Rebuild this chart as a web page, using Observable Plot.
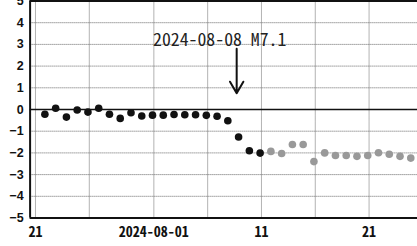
<!DOCTYPE html>
<html><head><meta charset="utf-8">
<script src="https://cdn.jsdelivr.net/npm/d3@7"></script>
<script src="https://cdn.jsdelivr.net/npm/@observablehq/plot@0.6"></script>
<style>
html,body{margin:0;padding:0;background:#fff;}
#chart svg{display:block;}
</style></head><body><div id="chart"></div>
<script>
// Daily solutions (plotted at 21:00 JST), values in cm
const finalDates = ["2024-07-21","2024-07-22","2024-07-23","2024-07-24","2024-07-25","2024-07-26","2024-07-27","2024-07-28","2024-07-29","2024-07-30","2024-07-31","2024-08-01","2024-08-02","2024-08-03","2024-08-04","2024-08-05","2024-08-06","2024-08-07","2024-08-08","2024-08-09","2024-08-10"];
const finalValues = [-0.22,0.06,-0.35,-0.02,-0.12,0.06,-0.22,-0.41,-0.15,-0.30,-0.26,-0.26,-0.23,-0.24,-0.24,-0.27,-0.31,-0.52,-1.27,-1.90,-2.01];
const rapidDates = ["2024-08-11","2024-08-12","2024-08-13","2024-08-14","2024-08-15","2024-08-16","2024-08-17","2024-08-18","2024-08-19","2024-08-20","2024-08-21","2024-08-22","2024-08-23","2024-08-24"];
const rapidValues = [-1.93,-2.03,-1.61,-1.61,-2.40,-2.00,-2.12,-2.12,-2.16,-2.12,-1.99,-2.06,-2.16,-2.24];

const xDomain = ["2024-07-20T12:00:00+09:00","2024-08-25T12:00:00+09:00"];
const gridDates = ["2024-07-21","2024-07-26","2024-08-01","2024-08-06","2024-08-11","2024-08-16","2024-08-21"];
const tickDates = ["2024-07-21","2024-08-01","2024-08-11","2024-08-21"];
const tickLabels = ["21","2024-08-01","11","21"];
const yTicks = [5,4,3,2,1,0,-1,-2,-3,-4,-5];
const yTickLabels = ["5","4","3","2","1","0","−1","−2","−3","−4","−5"];
const eventTime = "2024-08-08T16:43:00+09:00";
const eventLabel = "2024-08-08 M7.1";
const arrowFrom = 2.8, arrowTo = 0.75, labelY = 3.2;

const day = s => new Date(s + "T00:00:00+09:00");
const obs = s => new Date(s + "T21:00:00+09:00");
const finalData = finalDates.map((d,i)=>({t:obs(d), v:finalValues[i]}));
const rapidData = rapidDates.map((d,i)=>({t:obs(d), v:rapidValues[i]}));
const labelMap = new Map(tickDates.map((d,i)=>[+day(d), tickLabels[i]]));
const yLabelMap = new Map(yTicks.map((v,i)=>[v, yTickLabels[i]]));
const ev = new Date(eventTime);
const monoFont = "'Noto Sans Mono CJK JP','Noto Sans CJK JP','DejaVu Sans Mono',monospace";
const yFont = "'Liberation Sans',Arial,sans-serif";

const chart = Plot.plot({
  width: 417, height: 246,
  marginLeft: 29.6, marginRight: 0, marginTop: 0.5, marginBottom: 28.5,
  x: {type: "utc", domain: xDomain.map(s=>new Date(s)), label: null},
  y: {domain: [-5, 5], label: null},
  style: {background: "#fff", overflow: "visible"},
  marks: [
    Plot.gridX(gridDates.map(day), {stroke: "#666", strokeOpacity: 1, strokeDasharray: "1,1", strokeWidth: 1}),
    Plot.gridY(yTicks.filter(v => v !== 0 && Math.abs(v) !== 5), {stroke: "#666", strokeOpacity: 1, strokeDasharray: "1,1", strokeWidth: 1}),
    Plot.ruleY([0], {stroke: "#111", strokeWidth: 1.3}),
    Plot.ruleY([5], {stroke: "#111", strokeWidth: 2}),
    Plot.ruleY([-5], {stroke: "#111", strokeWidth: 2}),
    Plot.ruleX([new Date(xDomain[0])], {stroke: "#111", strokeWidth: 2}),
    Plot.axisY(yTicks, {label: null, tickSize: 0, tickPadding: 6.5, tickFormat: v => yLabelMap.get(v), fontFamily: yFont, fontWeight: "bold", fontSize: 12.5, fill: "#111"}),
    Plot.axisX(tickDates.map(day), {label: null, tickSize: 0, tickPadding: 9, tickFormat: d => labelMap.get(+d), fontFamily: monoFont, fontWeight: "bold", fontSize: 14, fill: "#111"}),
    Plot.dot(finalData, {x: "t", y: "v", r: 3.8, fill: "#111"}),
    Plot.dot(rapidData, {x: "t", y: "v", r: 3.8, fill: "#999"}),
    Plot.arrow([0], {x1: () => ev, x2: () => ev, y1: arrowFrom, y2: arrowTo, stroke: "#111", strokeWidth: 2, headLength: 10}),
    Plot.text([eventLabel], {x: () => ev, y: labelY, text: d => d, dx: -17, fontSize: 17.8, fontFamily: monoFont, fill: "#222"})
  ]
});
document.getElementById("chart").append(chart);
</script></body></html>
